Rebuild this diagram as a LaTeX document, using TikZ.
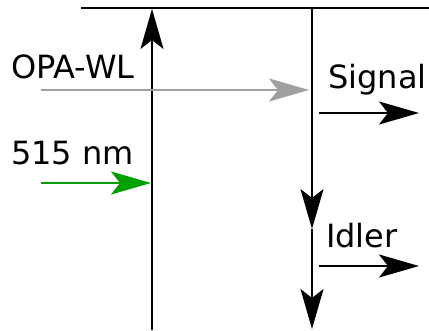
\documentclass[tikz,border=0pt]{standalone}
\usepackage{fontspec}
\setmainfont{DejaVu Sans}
\usetikzlibrary{arrows.meta}
\definecolor{beamgray}{RGB}{160,160,160}
\definecolor{beamgreen}{RGB}{0,160,0}
\begin{document}
\begin{tikzpicture}[x=1pt,y=-1pt,
  lbl/.style={inner sep=0pt,anchor=base west,font=\fontsize{32}{38}\selectfont},
  beam/.style={line width=2pt,-{Stealth[length=40pt,width=23pt,inset=9pt]}},
  plain/.style={line width=2pt}]
\useasboundingbox (0,0) rectangle (429,330);
% coordinates
\coordinate (tl) at (81,8);
\coordinate (tr) at (429,8);
\coordinate (lb) at (152,330);
\coordinate (lt) at (152,9);
\coordinate (rt) at (312,8);
\coordinate (rm) at (312,229);
\coordinate (rb) at (312,329);
\coordinate (gs) at (41,90);
\coordinate (ge) at (309,90);
\coordinate (ps) at (41,183);
\coordinate (pe) at (151,183);
\coordinate (ss) at (319,113);
\coordinate (se) at (419,113);
\coordinate (is) at (319,266);
\coordinate (ie) at (419,266);
% lines
\draw[plain] (tl) -- (tr);
\draw[beam] (lb) -- (lt);
\draw[beam] (rt) -- (rm);
\draw[beam] (rm) -- (rb);
\draw[beam,beamgray] (gs) -- (ge);
\draw[beam,beamgreen] (ps) -- (pe);
\draw[beam] (ss) -- (se);
\draw[beam] (is) -- (ie);
% labels
\node[lbl] (opa) at (11,78) {OPA-WL};
\node[lbl] (gr) at (11,164) {515 nm};
\node[lbl] (sig) at (328,88) {Signal};
\node[lbl] (idl) at (326,247) {Idler};
\end{tikzpicture}
\end{document}
